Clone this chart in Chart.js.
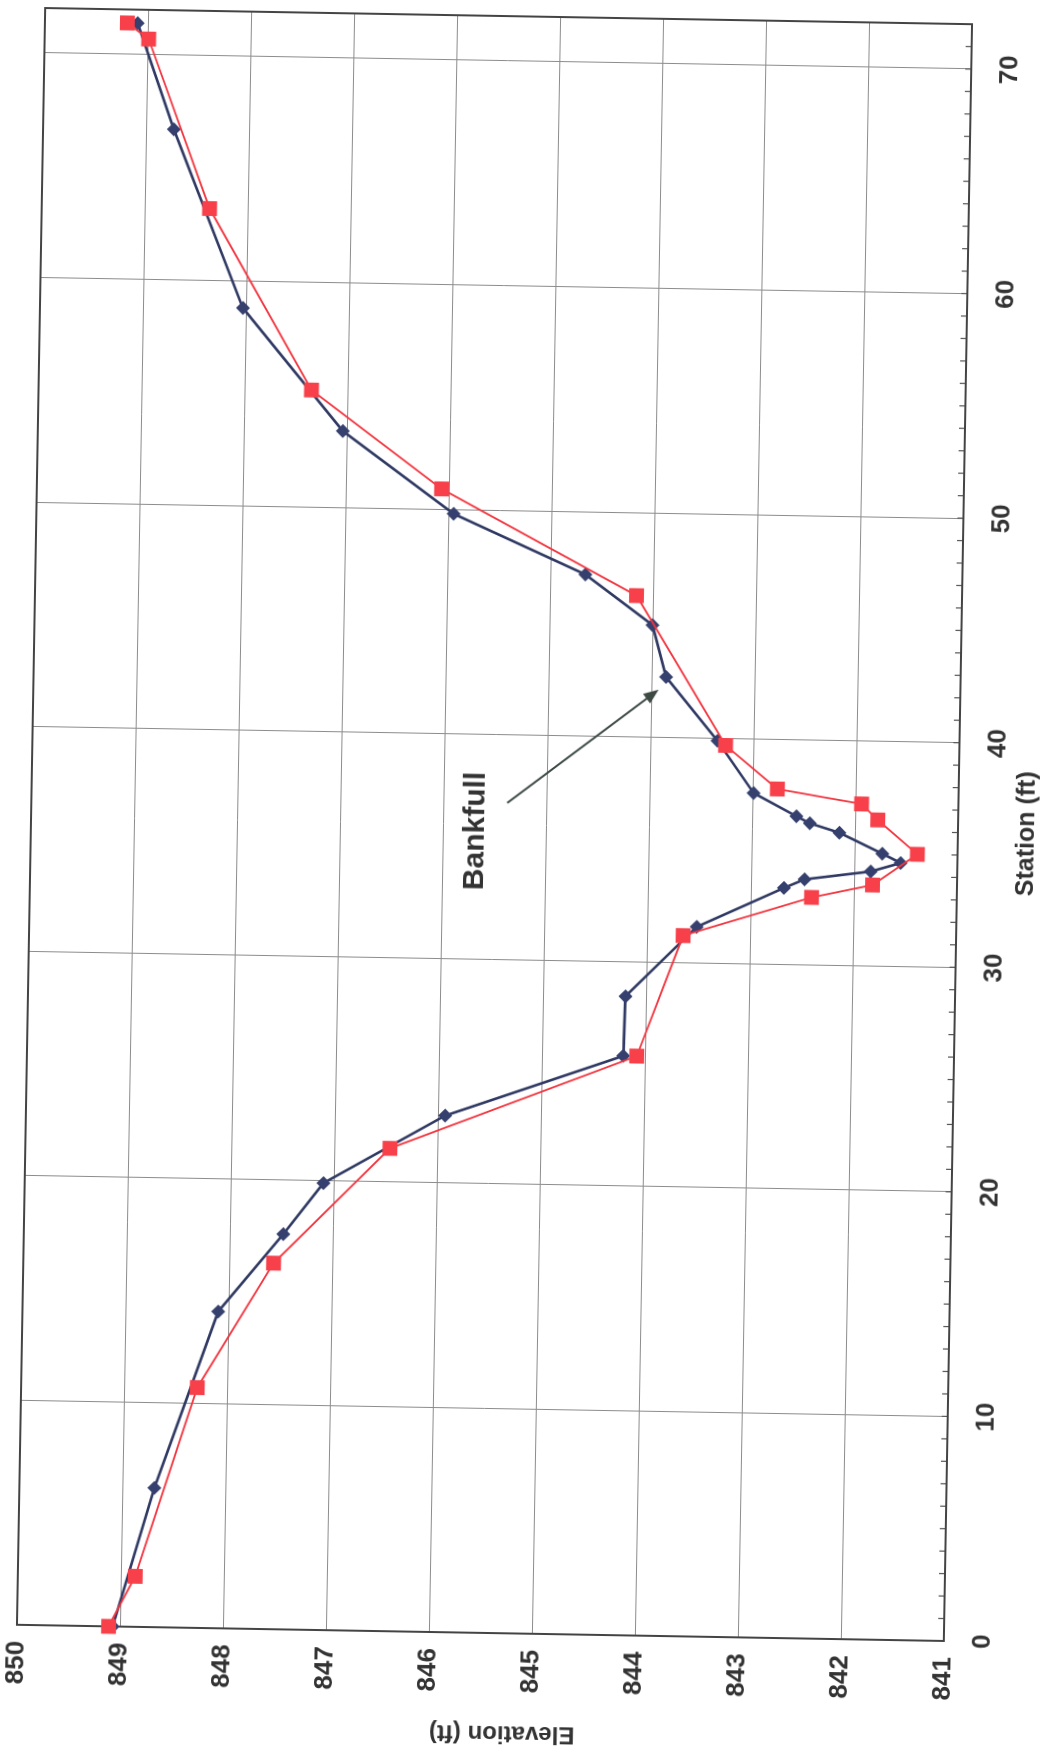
<!DOCTYPE html>
<html>
<head>
<meta charset="utf-8">
<script src="https://cdn.jsdelivr.net/npm/chart.js@4.4.1/dist/chart.umd.min.js"></script>
<style>
  html, body { margin: 0; padding: 0; background: #fff; overflow: hidden; }
  body { width: 1047px; height: 1759px; position: relative; }
  /* the scanned sheet is turned a quarter turn, slightly skewed */
  #hoja {
    position: absolute; left: -444px; top: 340.75px;
    width: 1767px; height: 1042px;
    transform-origin: 938.5px 483.5px;
    transform: rotate(-89deg);
  }
</style>
</head>
<body>
<div id="hoja"><canvas id="chartSeccion" width="1767" height="1042"></canvas></div>
<script>
// cross section 1 (navy diamonds)
const stationBlue = [0, 6.2, 14.1, 17.6, 19.9, 23.0, 25.8, 28.45, 31.6, 33.4, 33.8, 34.2, 34.6, 35.0,
  35.9, 36.3, 36.6, 37.6, 39.9, 42.7, 45.0, 47.2, 49.8, 53.4, 58.8, 66.7, 71.4];
const elevBlue = [849.07, 848.69, 848.10, 847.48, 847.10, 845.93, 844.21, 844.20, 843.52, 842.68, 842.48, 841.84, 841.55, 841.73,
  842.15, 842.44, 842.57, 842.99, 843.35, 843.86, 844.00, 844.66, 845.95, 847.04, 848.03, 848.73, 849.10];

// cross section 2 (red squares)
const stationRed = [0, 2.25, 10.7, 16.3, 21.5, 25.8, 31.2, 33.0, 33.6, 35.0, 36.5, 37.2, 37.8, 39.7,
  46.3, 50.9, 55.2, 63.2, 70.7, 71.4];
const elevRed = [849.11, 848.86, 848.29, 847.57, 846.46, 844.08, 843.65, 842.41, 841.82, 841.39, 841.78, 841.94, 842.76, 843.27,
  844.16, 846.07, 847.35, 848.37, 848.99, 849.20];

const stationTicks = [0, 10, 20, 30, 40, 50, 60, 70];
const elevTicks = [841, 842, 843, 844, 845, 846, 847, 848, 849, 850];

// annotation, in data units (station, elevation)
const bankfullText = ['Bankfull', 35.7, 845.68];
const bankfullArrow = [[36.97, 845.38], [42.13, 843.93]];

const toPoints = (xs, ys) => xs.map((s, i) => ({x: s, y: ys[i]}));

const fuente = '"Liberation Sans", Arial, sans-serif';

const extras = {
  id: 'extras',
  beforeDatasetsDraw(chart) {
    const {ctx, chartArea: a, scales: {x}} = chart;
    ctx.save();
    ctx.strokeStyle = '#555';
    ctx.lineWidth = 1.2;
    for (let s = 1; s < 72; s++) {
      const px = x.getPixelForValue(s);
      ctx.beginPath();
      ctx.moveTo(px, a.bottom);
      ctx.lineTo(px, a.bottom - 6);
      ctx.stroke();
    }
    ctx.strokeStyle = '#444';
    ctx.lineWidth = 2;
    ctx.strokeRect(a.left, a.top, a.right - a.left, a.bottom - a.top);

    // y axis title, placed by hand (sits a little off centre on the sheet)
    ctx.translate(30, (a.top + a.bottom) / 2 + 23);
    ctx.rotate(-Math.PI / 2);
    ctx.fillStyle = '#333';
    ctx.font = 'bold 24px ' + fuente;
    ctx.textAlign = 'center';
    ctx.textBaseline = 'middle';
    ctx.fillText('Elevation (ft)', 0, 0);
    ctx.restore();
  },
  afterDatasetsDraw(chart) {
    const {ctx, scales: {x, y}} = chart;
    ctx.save();
    const x0 = x.getPixelForValue(bankfullArrow[0][0]), y0 = y.getPixelForValue(bankfullArrow[0][1]);
    const x1 = x.getPixelForValue(bankfullArrow[1][0]), y1 = y.getPixelForValue(bankfullArrow[1][1]);
    const ang = Math.atan2(y1 - y0, x1 - x0);
    ctx.strokeStyle = '#3d4a44';
    ctx.fillStyle = '#3d4a44';
    ctx.lineWidth = 2;
    ctx.beginPath();
    ctx.moveTo(x0, y0);
    ctx.lineTo(x1 - 10 * Math.cos(ang), y1 - 10 * Math.sin(ang));
    ctx.stroke();
    ctx.beginPath();
    ctx.moveTo(x1, y1);
    ctx.lineTo(x1 - 15 * Math.cos(ang) + 6 * Math.sin(ang), y1 - 15 * Math.sin(ang) - 6 * Math.cos(ang));
    ctx.lineTo(x1 - 15 * Math.cos(ang) - 6 * Math.sin(ang), y1 - 15 * Math.sin(ang) + 6 * Math.cos(ang));
    ctx.closePath();
    ctx.fill();

    ctx.fillStyle = '#333';
    ctx.font = 'bold 30px ' + fuente;
    ctx.textAlign = 'center';
    ctx.textBaseline = 'middle';
    ctx.fillText(bankfullText[0], x.getPixelForValue(bankfullText[1]), y.getPixelForValue(bankfullText[2]));
    ctx.restore();
  }
};

const ctx = document.getElementById('chartSeccion');
new Chart(ctx, {
  type: 'scatter',
  data: {
    datasets: [{
      label: 'Red',
      data: toPoints(stationRed, elevRed),
      showLine: true,
      borderColor: '#f2353f',
      backgroundColor: '#f7404a',
      borderWidth: 1.8,
      pointStyle: 'rect',
      pointRadius: 10.5,
      pointBorderWidth: 0,
      clip: false,
      order: 0
    }, {
      label: 'Blue',
      data: toPoints(stationBlue, elevBlue),
      showLine: true,
      borderColor: '#2f3963',
      backgroundColor: '#36406e',
      borderWidth: 2.6,
      pointStyle: 'rectRot',
      pointRadius: 7,
      pointBorderWidth: 0,
      clip: false,
      order: 1
    }]
  },
  options: {
    responsive: false,
    animation: false,
    layout: { padding: { left: 0, right: 20, top: 20, bottom: 0 } },
    plugins: { legend: { display: false }, tooltip: { enabled: false } },
    scales: {
      x: {
        type: 'linear',
        min: 0,
        max: 72,
        afterBuildTicks: (scale) => { scale.ticks = stationTicks.map(v => ({value: v})); },
        afterFit: (scale) => { scale.height = 95; scale.paddingLeft = 0; scale.paddingRight = 0; },
        grid: { color: '#8c8c8c', lineWidth: 1, drawTicks: false },
        border: { display: false },
        ticks: { padding: 23, color: '#333', font: { family: fuente, size: 26, weight: 'bold' } },
        title: { display: true, text: 'Station (ft)', color: '#333',
                 font: { family: fuente, size: 25, weight: 'bold' }, padding: { top: 0, bottom: 11 } }
      },
      y: {
        type: 'linear',
        min: 841,
        max: 850,
        afterBuildTicks: (scale) => { scale.ticks = elevTicks.map(v => ({value: v})); },
        afterFit: (scale) => { scale.width = 130; scale.paddingTop = 0; scale.paddingBottom = 0; },
        grid: { color: '#8c8c8c', lineWidth: 1, drawTicks: false },
        border: { display: false },
        ticks: { padding: 16, color: '#333', font: { family: fuente, size: 26, weight: 'bold' } },
        title: { display: false }
      }
    }
  },
  plugins: [extras]
});
</script>
</body>
</html>
